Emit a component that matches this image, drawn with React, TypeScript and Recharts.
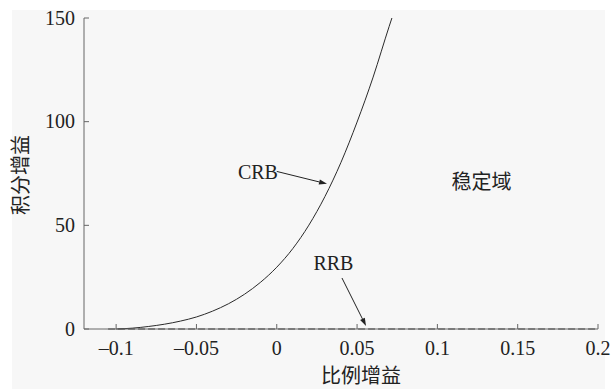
import { LineChart, Line, XAxis, YAxis, ReferenceDot, ReferenceLine } from 'recharts'

// CRB curve
const crbX = [-0.1, -0.09, -0.08, -0.07, -0.06, -0.05, -0.04, -0.03, -0.02, -0.01, 0, 0.01, 0.02, 0.03, 0.04, 0.05, 0.06, 0.07, 0.0717]
const crbY = [0, 0.4, 1.2, 2.3, 3.8, 5.8, 8.6, 12.2, 16.8, 22.6, 29.8, 38.8, 50.1, 63.9, 80.4, 99.8, 121.5, 146, 150]

// RRB line (dashed, along zero)
const rrbX = [-0.105, 0.2]
const rrbY = [0, 0]

const xTicks = [-0.1, -0.05, 0, 0.05, 0.1, 0.15, 0.2]
const xTickLabels = ['–0.1', '–0.05', '0', '0.05', '0.1', '0.15', '0.2']
const yTicks = [0, 50, 100, 150]
const yTickLabels = ['0', '50', '100', '150']

const crbData = crbX.map((x, i) => ({ x, y: crbY[i] }))
const rrbData = rrbX.map((x, i) => ({ x, y: rrbY[i] }))

const serif = "'Liberation Serif', 'DejaVu Serif', serif"
const cjk = "'Noto Sans CJK SC', sans-serif"
const axisColor = '#666'
const lineColor = '#2a2a2a'

const BottomTick = ({ x, y, payload }: any) => {
  const i = xTicks.indexOf(payload.value)
  return (
    <g>
      <line x1={x} y1={y} x2={x} y2={y - 5} stroke={axisColor} />
      <text x={x} y={y + 26} textAnchor="middle" style={{ fontFamily: serif, fontSize: 20 }} fill="#222">
        {i >= 0 ? xTickLabels[i] : payload.value}
      </text>
    </g>
  )
}

const TopTick = ({ x, y }: any) => <line x1={x} y1={y} x2={x} y2={y + 5} stroke={axisColor} />

const LeftTick = ({ x, y, payload }: any) => {
  const i = yTicks.indexOf(payload.value)
  return (
    <g>
      <line x1={x} y1={y} x2={x + 5} y2={y} stroke={axisColor} />
      <text x={x - 9} y={y + 6.5} textAnchor="end" style={{ fontFamily: serif, fontSize: 20 }} fill="#222">
        {i >= 0 ? yTickLabels[i] : payload.value}
      </text>
    </g>
  )
}

const RightTick = ({ x, y }: any) => <line x1={x} y1={y} x2={x - 5} y2={y} stroke={axisColor} />

const Arrow = (props: any) => {
  const { x1, y1, x2, y2 } = props
  const ang = Math.atan2(y2 - y1, x2 - x1)
  const len = 8
  const w = 2.6
  const bx = x2 - len * Math.cos(ang)
  const by = y2 - len * Math.sin(ang)
  const px = -Math.sin(ang) * w
  const py = Math.cos(ang) * w
  return (
    <g>
      <line x1={x1} y1={y1} x2={bx} y2={by} stroke="#222" strokeWidth={1} />
      <path d={`M${x2},${y2} L${bx + px},${by + py} L${bx - px},${by - py} Z`} fill="#222" />
    </g>
  )
}

const textShape = (label: string, font: string, size: number) => (p: any) => (
  <text x={p.cx} y={p.cy + size * 0.35} textAnchor="middle" style={{ fontFamily: font, fontSize: size }} fill="#222">
    {label}
  </text>
)

export default function App() {
  return (
    <div style={{ position: 'absolute', left: 0, top: 0, width: 616, height: 389, background: '#fff', overflow: 'hidden' }}>
      <div style={{ position: 'absolute', left: 12, top: 10, width: 593, height: 379, background: '#f7f7f7' }} />
      <div style={{ position: 'absolute', left: 0, top: 0 }}>
        <LineChart width={616} height={389} margin={{ top: 18, right: 18, bottom: 30, left: 24 }}>
          <XAxis
            xAxisId="b"
            type="number"
            dataKey="x"
            domain={[-0.12, 0.2]}
            ticks={xTicks}
            tick={<BottomTick />}
            tickSize={0}
            tickMargin={0}
            tickLine={false}
            axisLine={{ stroke: axisColor }}
            height={30}
            allowDataOverflow
          />
          <XAxis
            xAxisId="t"
            orientation="top"
            type="number"
            dataKey="x"
            domain={[-0.12, 0.2]}
            ticks={xTicks}
            tick={<TopTick />}
            tickSize={0}
            tickMargin={0}
            tickLine={false}
            axisLine={{ stroke: axisColor }}
            height={0}
            allowDataOverflow
          />
          <YAxis
            yAxisId="l"
            type="number"
            domain={[0, 150]}
            ticks={yTicks}
            tick={<LeftTick />}
            tickSize={0}
            tickMargin={0}
            tickLine={false}
            axisLine={{ stroke: axisColor }}
            width={60}
          />
          <YAxis
            yAxisId="r"
            orientation="right"
            type="number"
            domain={[0, 150]}
            ticks={yTicks}
            tick={<RightTick />}
            tickSize={0}
            tickMargin={0}
            tickLine={false}
            axisLine={{ stroke: axisColor }}
            width={0}
          />
          <Line
            xAxisId="b"
            yAxisId="l"
            data={rrbData}
            dataKey="y"
            type="linear"
            stroke={lineColor}
            strokeWidth={1.2}
            strokeDasharray="7 3"
            dot={false}
            isAnimationActive={false}
          />
          <Line
            xAxisId="b"
            yAxisId="l"
            data={crbData}
            dataKey="y"
            type="monotone"
            stroke={lineColor}
            strokeWidth={1}
            dot={false}
            isAnimationActive={false}
          />
          <ReferenceLine
            xAxisId="b"
            yAxisId="l"
            segment={[{ x: 0.0, y: 76 }, { x: 0.0313, y: 70 }]}
            shape={<Arrow />}
          />
          <ReferenceLine
            xAxisId="b"
            yAxisId="l"
            segment={[{ x: 0.0406, y: 24.6 }, { x: 0.0556, y: 1.4 }]}
            shape={<Arrow />}
          />
          <ReferenceDot xAxisId="b" yAxisId="l" x={-0.0117} y={75.7} r={0} shape={textShape('CRB', serif, 20)} />
          <ReferenceDot xAxisId="b" yAxisId="l" x={0.0353} y={31.8} r={0} shape={textShape('RRB', serif, 20)} />
          <ReferenceDot xAxisId="b" yAxisId="l" x={0.1275} y={70.9} r={0} shape={textShape('稳定域', cjk, 20)} />
        </LineChart>
      </div>
      <div style={{ position: 'absolute', left: 361, top: 375, transform: 'translate(-50%, -50%)', fontFamily: cjk, fontSize: 20, color: '#222', whiteSpace: 'nowrap', lineHeight: 1 }}>
        比例增益
      </div>
      <div style={{ position: 'absolute', left: 20, top: 175, transform: 'translate(-50%, -50%) rotate(-90deg)', fontFamily: cjk, fontSize: 20, color: '#222', whiteSpace: 'nowrap', lineHeight: 1 }}>
        积分增益
      </div>
    </div>
  )
}
